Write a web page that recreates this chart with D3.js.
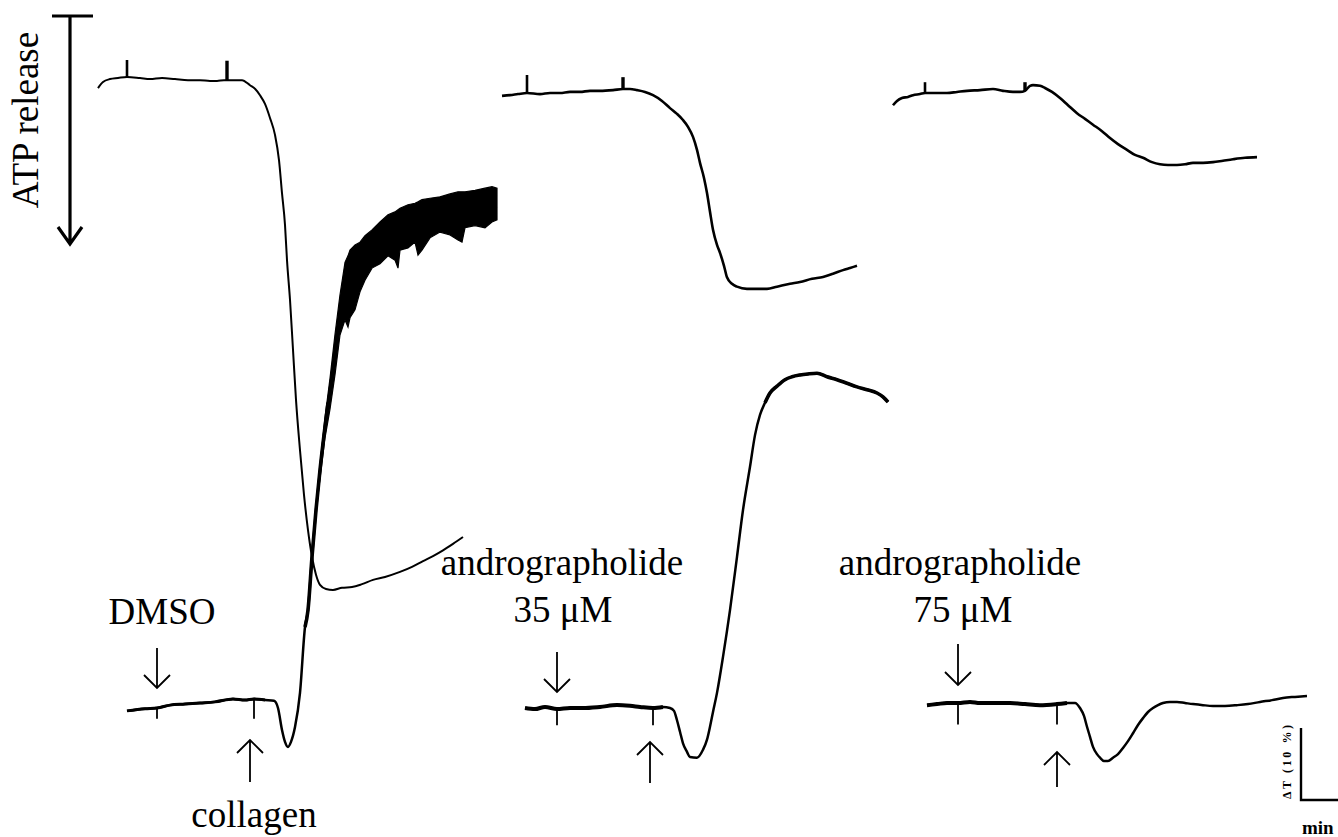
<!DOCTYPE html>
<html>
<head>
<meta charset="utf-8">
<script src="https://cdn.jsdelivr.net/npm/d3@7/dist/d3.min.js"></script>
<style>
  html, body { margin: 0; padding: 0; background: #fff; }
  svg { display: block; }
  text { font-family: "Liberation Serif", "Times New Roman", serif; fill: #000; }
</style>
</head>
<body>
<svg id="chart" width="1338" height="837"></svg>
<script>
// ---- Data: time in s after drug addition, aggregation as ΔT (%), ATP release in luminescence units ----

const treatments = ["DMSO", "andrographolide", "andrographolide"];
const doses = ["", "35 μM", "75 μM"];
const agonist = "collagen";

// light transmission traces (aggregation, drawn upward)
const aggDMSO = [
  [-45, -0.4], [-18, -0.1], [0, 0], [19.5, 0.4], [42, 0.55], [64.5, 0.7], [87, 0.85],
  [114, 1.25], [132, 1.1], [145.5, 1.25], [162, 1.1], [175.5, 1.0], [181.5, 0],
  [187.5, -3.05], [192, -4.7], [196.5, -5.4], [201, -4.7], [207, -2.65], [214.5, 2.1],
  [222, 11.25], [226.5, 13.6], [232.5, 21.0], [238.5, 27.5], [244.5, 33.05], [256.5, 42.4],
  [267, 49.7], [274.5, 54.6], [285, 58.75], [297, 61.9], [312, 63.6], [324, 65.0],
  [349.5, 66.7], [372, 67.8], [399, 68.5], [424.5, 68.9], [450, 69.2], [477, 69.4], [510, 69.7]
];
// recorder noise envelope on the DMSO plateau: [t, upper, lower]
const aggDMSONoise = [
  [241.5, 31.0, 29.6], [252, 40.3, 37.5], [259.5, 45.8, 41.5], [267, 51.9, 46.3],
  [274.5, 57.4, 51.8], [282, 61.9, 53.9], [286.5, 62.8, 52.9], [289.5, 63.6, 54.2],
  [297, 64.3, 55.3], [304.5, 64.7, 57.8], [312, 65.6, 59.4], [322.5, 66.4, 61.1],
  [334.5, 67.5, 61.7], [346.5, 68.5, 62.8], [357, 68.9, 62.2], [361.5, 69.2, 61.1],
  [364.5, 69.4, 63.6], [376.5, 69.9, 63.9], [387, 70.1, 64.7], [391.5, 70.3, 62.9],
  [397.5, 70.6, 63.6], [409.5, 70.8, 65.3], [424.5, 71.0, 66.1], [439.5, 71.4, 65.7],
  [451.5, 71.7, 65.0], [457.5, 71.7, 64.7], [462, 71.7, 66.7], [477, 71.9, 67.0],
  [492, 72.2, 66.7], [502.5, 72.4, 67.5], [510, 72.2, 67.8]
];
const agg35 = [
  [-48, 0], [-33, -0.15], [-18, 0.15], [0, -0.15], [19.5, 0], [39, 0], [64.5, 0.15],
  [90, 0.4], [109.5, 0.3], [124.5, 0.15], [144, 0], [159, 0.15], [169.5, 0],
  [175.5, -0.4], [180, -1.7], [184.5, -3.3], [189, -4.9], [195, -6.1], [199.5, -6.8],
  [210, -6.9], [219, -5.8], [225, -4.4], [229.5, -2.6], [234, -0.55], [240, 2.1],
  [249, 7.1], [259.5, 13.6], [270, 21.0], [279, 27.5], [289.5, 33.5], [297, 37.9],
  [304.5, 40.7], [312, 42.4], [319.5, 43.75], [330, 44.7], [342, 45.6], [352.5, 46.0],
  [364.5, 46.25], [376.5, 46.4], [390, 46.5], [405, 46.0], [420, 45.6], [435, 45.1],
  [450, 44.6], [465, 44.2], [480, 43.75], [489, 43.2], [496.5, 42.5]
];
const agg75 = [
  [-46.5, -0.3], [-31.5, -0.15], [-16.5, 0], [0, 0], [18, 0.15], [33, 0], [55.5, 0],
  [78, 0], [100.5, -0.15], [123, -0.3], [148.5, -0.15], [163.5, 0], [175.5, 0],
  [183, -0.7], [189, -1.8], [193.5, -3.3], [198, -4.7], [202.5, -6.1], [208.5, -7.1],
  [213, -7.6], [219, -8.05], [225, -8.05], [232.5, -7.6], [240, -7.1], [247.5, -6.25],
  [255, -5.3], [262.5, -4.2], [270, -3.05], [277.5, -2.1], [285, -1.25], [292.5, -0.7],
  [300, -0.3], [307.5, 0], [318, 0.15], [328.5, 0.15], [340.5, 0], [352.5, -0.15],
  [367.5, -0.3], [382.5, -0.4], [400.5, -0.4], [418.5, -0.3], [435, -0.15], [453, 0.15],
  [471, 0.4], [487.5, 0.7], [505.5, 0.85], [523.5, 0.97]
];

// ATP release traces (luminescence, release drawn downward)
const atpDMSO = [
  [-43.5, 1.4], [-36, 0.55], [-25.5, 0.15], [-13.5, 0], [0, -0.15], [19.5, 0], [34.5, 0.15],
  [52.5, 0], [72, 0.15], [91.5, 0.3], [109.5, 0.3], [124.5, 0.4], [135, 0.4], [145.5, 0.3],
  [150, 0.3], [162, 0.3], [172.5, 0.3], [184.5, 1.0], [192, 1.5], [199.5, 2.4], [207, 3.6],
  [214.5, 5.55], [222, 7.9], [228, 11.4], [232.5, 16.0], [237, 20.4], [240, 25.3],
  [244.5, 30.8], [249, 37.75], [253.5, 44.7], [259.5, 51.7], [265.5, 57.9], [271.5, 62.8],
  [277.5, 66.5], [283.5, 69.0], [289.5, 70.4], [298.5, 70.97], [309, 71.1], [322.5, 70.8],
  [337.5, 70.7], [352.5, 70.3], [369, 69.7], [387, 69.3], [409.5, 68.6], [427.5, 67.9],
  [444, 67.1], [459, 66.4], [474, 65.6], [489, 64.7], [504, 63.75]
];
const atp35 = [
  [-37.5, 0.4], [-25.5, 0.3], [-13.5, 0.15], [0, 0], [19.5, 0.15], [34.5, 0], [49.5, 0],
  [64.5, -0.15], [79.5, -0.15], [94.5, -0.3], [109.5, -0.3], [129, -0.4], [144, -0.55],
  [154.5, -0.55], [165, -0.4], [177, -0.15], [189, 0.3], [202.5, 1.1], [214.5, 2.1],
  [225, 2.9], [234, 3.75], [241.5, 4.7], [249, 6.1], [255, 7.9], [259.5, 9.7], [265.5, 11.8],
  [270, 13.9], [274.5, 16.5], [279, 19.0], [285, 21.1], [289.5, 22.2], [295.5, 24.0],
  [300, 25.6], [307.5, 26.5], [315, 26.9], [330, 27.2], [345, 27.2], [360, 27.2],
  [375, 26.9], [394.5, 26.5], [409.5, 26.25], [427.5, 25.8], [444, 25.55], [459, 25.1],
  [474, 24.6], [484.5, 24.3], [495, 24.0]
];
const atp75 = [
  [-48, 1.7], [-42, 1.1], [-34.5, 0.7], [-25.5, 0.55], [-18, 0.3], [-7.5, 0.15], [0, 0],
  [15, 0], [33, 0], [48, -0.15], [63, -0.3], [82.5, -0.4], [102, -0.55], [117, -0.3],
  [132, -0.15], [142.5, -0.15], [150, -0.3], [157.5, -1.0], [162, -1.1], [172.5, -1.0],
  [180, -0.7], [190.5, -0.15], [202.5, 0.7], [214.5, 1.7], [228, 2.8], [240, 3.6],
  [252, 4.4], [265.5, 5.3], [277.5, 6.25], [289.5, 7.1], [303, 7.9], [315, 8.6],
  [327, 9.0], [340.5, 9.6], [352.5, 9.9], [364.5, 10.0], [378, 10.0], [390, 9.9],
  [402, 9.7], [417, 9.7], [432, 9.6], [447, 9.4], [462, 9.2], [480, 9.0], [498, 8.9]
];

// event marks: drug at t = 0, collagen afterwards
const collagenTimesAgg = [145.5, 144, 148.5];
const collagenTimesAtp = [150, 144, 150];
const aggTickFloor = [-1.5, -2.4, -3.0];
const atpSpikeTop = [[-2.5, -2.4], [-2.5, -2.2], [-1.5, -1.5]];

// calibration: 10 % ΔT, 1 min
const calibPercent = 10;
const calibSeconds = 60;

// ---- Layout ----
const W = 1338, H = 837;
const svg = d3.select("#chart");
svg.append("rect").attr("width", W).attr("height", H).attr("fill", "#fff");

// 1 min = 40 px, 10 % = 72 px
const x = d3.scaleLinear().domain([0, 60]).range([0, 40]);
const yAgg = d3.scaleLinear().domain([0, 10]).range([0, -72]);
const yAtp = d3.scaleLinear().domain([0, 10]).range([0, 72]);

const panels = [
  { agg: aggDMSO, atp: atpDMSO, aggO: [157, 708], atpO: [127, 78],
    downArrow: [648, 688], upArrow: [740, 782], upDx: -4,
    label: [162, 624], doseLabel: null },
  { agg: agg35, atp: atp35, aggO: [557, 708], atpO: [527, 93],
    downArrow: [652, 692], upArrow: [742, 783], upDx: -3,
    label: [562, 575], doseLabel: [563, 622] },
  { agg: agg75, atp: atp75, aggO: [958, 703], atpO: [925, 93],
    downArrow: [644, 685], upArrow: [752, 787], upDx: 0,
    label: [960, 575], doseLabel: [963, 622] }
];

function valueAt(series, t) {
  const i = d3.bisector(d => d[0]).left(series, t);
  if (i <= 0) return series[0][1];
  if (i >= series.length) return series[series.length - 1][1];
  const a = series[i - 1], b = series[i];
  return a[1] + (b[1] - a[1]) * (t - a[0]) / (b[0] - a[0]);
}

const aggLine = d3.line().x(d => x(d[0])).y(d => yAgg(d[1])).curve(d3.curveMonotoneX);
const atpLine = d3.line().x(d => x(d[0])).y(d => yAtp(d[1])).curve(d3.curveMonotoneX);

panels.forEach((p, k) => {
  // aggregation trace
  const g = svg.append("g").attr("transform", `translate(${p.aggO[0]},${p.aggO[1]})`);
  if (k === 0) {
    const band = d3.area().x(d => x(d[0])).y0(d => yAgg(d[2])).y1(d => yAgg(d[1]))
      .curve(d3.curveLinear);
    g.append("path").datum(aggDMSONoise).attr("d", band)
      .attr("fill", "#000").attr("stroke", "#000").attr("stroke-width", 1.2)
      .attr("stroke-linejoin", "miter");
    // thicker rising segment where the noise starts to build up
    const rise = p.agg.filter(d => d[0] >= 220 && d[0] <= 260);
    g.append("path").datum(rise).attr("d", aggLine)
      .attr("fill", "none").attr("stroke", "#000").attr("stroke-width", 3.6);
  }
  g.append("path").datum(p.agg).attr("d", aggLine)
    .attr("fill", "none").attr("stroke", "#000").attr("stroke-width", 2.5)
    .attr("stroke-linejoin", "round");
  // noisier pre-collagen baseline
  const pre = p.agg.filter(d => d[0] <= collagenTimesAgg[k] + 25);
  g.append("path").datum(pre).attr("d", aggLine)
    .attr("fill", "none").attr("stroke", "#000").attr("stroke-width", k === 0 ? 3.0 : 4.0)
    .attr("stroke-linejoin", "round");
  if (k === 1) {
    const top = p.agg.filter(d => d[0] >= 310);
    g.append("path").datum(top).attr("d", aggLine)
      .attr("fill", "none").attr("stroke", "#000").attr("stroke-width", 3.6);
  }
  // event ticks
  [0, collagenTimesAgg[k]].forEach(t => {
    g.append("line")
      .attr("x1", x(t)).attr("x2", x(t))
      .attr("y1", yAgg(valueAt(p.agg, t))).attr("y2", yAgg(aggTickFloor[k]))
      .attr("stroke", "#000").attr("stroke-width", 1.8);
  });

  // ATP trace
  const ga = svg.append("g").attr("transform", `translate(${p.atpO[0]},${p.atpO[1]})`);
  ga.append("path").datum(p.atp).attr("d", atpLine)
    .attr("fill", "none").attr("stroke", "#000").attr("stroke-width", k === 0 ? 2.0 : 2.6)
    .attr("stroke-linejoin", "round");
  [0, collagenTimesAtp[k]].forEach((t, j) => {
    ga.append("line")
      .attr("x1", x(t)).attr("x2", x(t))
      .attr("y1", yAtp(valueAt(p.atp, t))).attr("y2", yAtp(atpSpikeTop[k][j]))
      .attr("stroke", "#000").attr("stroke-width", j === 0 ? 2.6 : 3.4);
  });

  // addition arrows
  const xd = p.aggO[0] + x(0);
  const [dTop, dTip] = p.downArrow;
  svg.append("path")
    .attr("d", `M${xd},${dTop}V${dTip}M${xd - 13},${dTip - 13}L${xd},${dTip}L${xd + 13},${dTip - 13}`)
    .attr("fill", "none").attr("stroke", "#000").attr("stroke-width", 1.8);
  const xu = p.aggO[0] + x(collagenTimesAgg[k]) + p.upDx;
  const [uTip, uBot] = p.upArrow;
  svg.append("path")
    .attr("d", `M${xu},${uBot}V${uTip}M${xu - 13},${uTip + 13}L${xu},${uTip}L${xu + 13},${uTip + 13}`)
    .attr("fill", "none").attr("stroke", "#000").attr("stroke-width", 1.8);

  // treatment labels
  svg.append("text").attr("x", p.label[0]).attr("y", p.label[1])
    .attr("text-anchor", "middle").attr("font-size", 37).text(treatments[k]);
  if (p.doseLabel) {
    svg.append("text").attr("x", p.doseLabel[0]).attr("y", p.doseLabel[1])
      .attr("text-anchor", "middle").attr("font-size", 37).text(doses[k]);
  }
});

svg.append("text").attr("x", 254).attr("y", 827)
  .attr("text-anchor", "middle").attr("font-size", 37).text(agonist);

// ATP release direction marker
svg.append("path")
  .attr("d", "M52,16H93M70,16V243M58,227L70,244L82,227")
  .attr("fill", "none").attr("stroke", "#000").attr("stroke-width", 3.2);
svg.append("text")
  .attr("transform", "translate(38,120) rotate(-90)")
  .attr("text-anchor", "middle").attr("font-size", 37).text("ATP release");

// calibration bars
const cal = svg.append("g").attr("transform", "translate(1301,800)");
cal.append("path")
  .attr("d", `M${x(0)},${yAgg(calibPercent)}V${yAgg(0)}H${x(calibSeconds)}`)
  .attr("fill", "none").attr("stroke", "#000").attr("stroke-width", 2.4);
svg.append("text")
  .attr("transform", "translate(1291,762) rotate(-90)")
  .attr("text-anchor", "middle").attr("font-size", 12).attr("font-weight", "bold")
  .attr("textLength", 74).attr("lengthAdjust", "spacing")
  .text("ΔT (10 %)");
svg.append("text").attr("x", 1302).attr("y", 834)
  .attr("font-size", 19).attr("font-weight", "bold").text("min");
</script>
</body>
</html>
